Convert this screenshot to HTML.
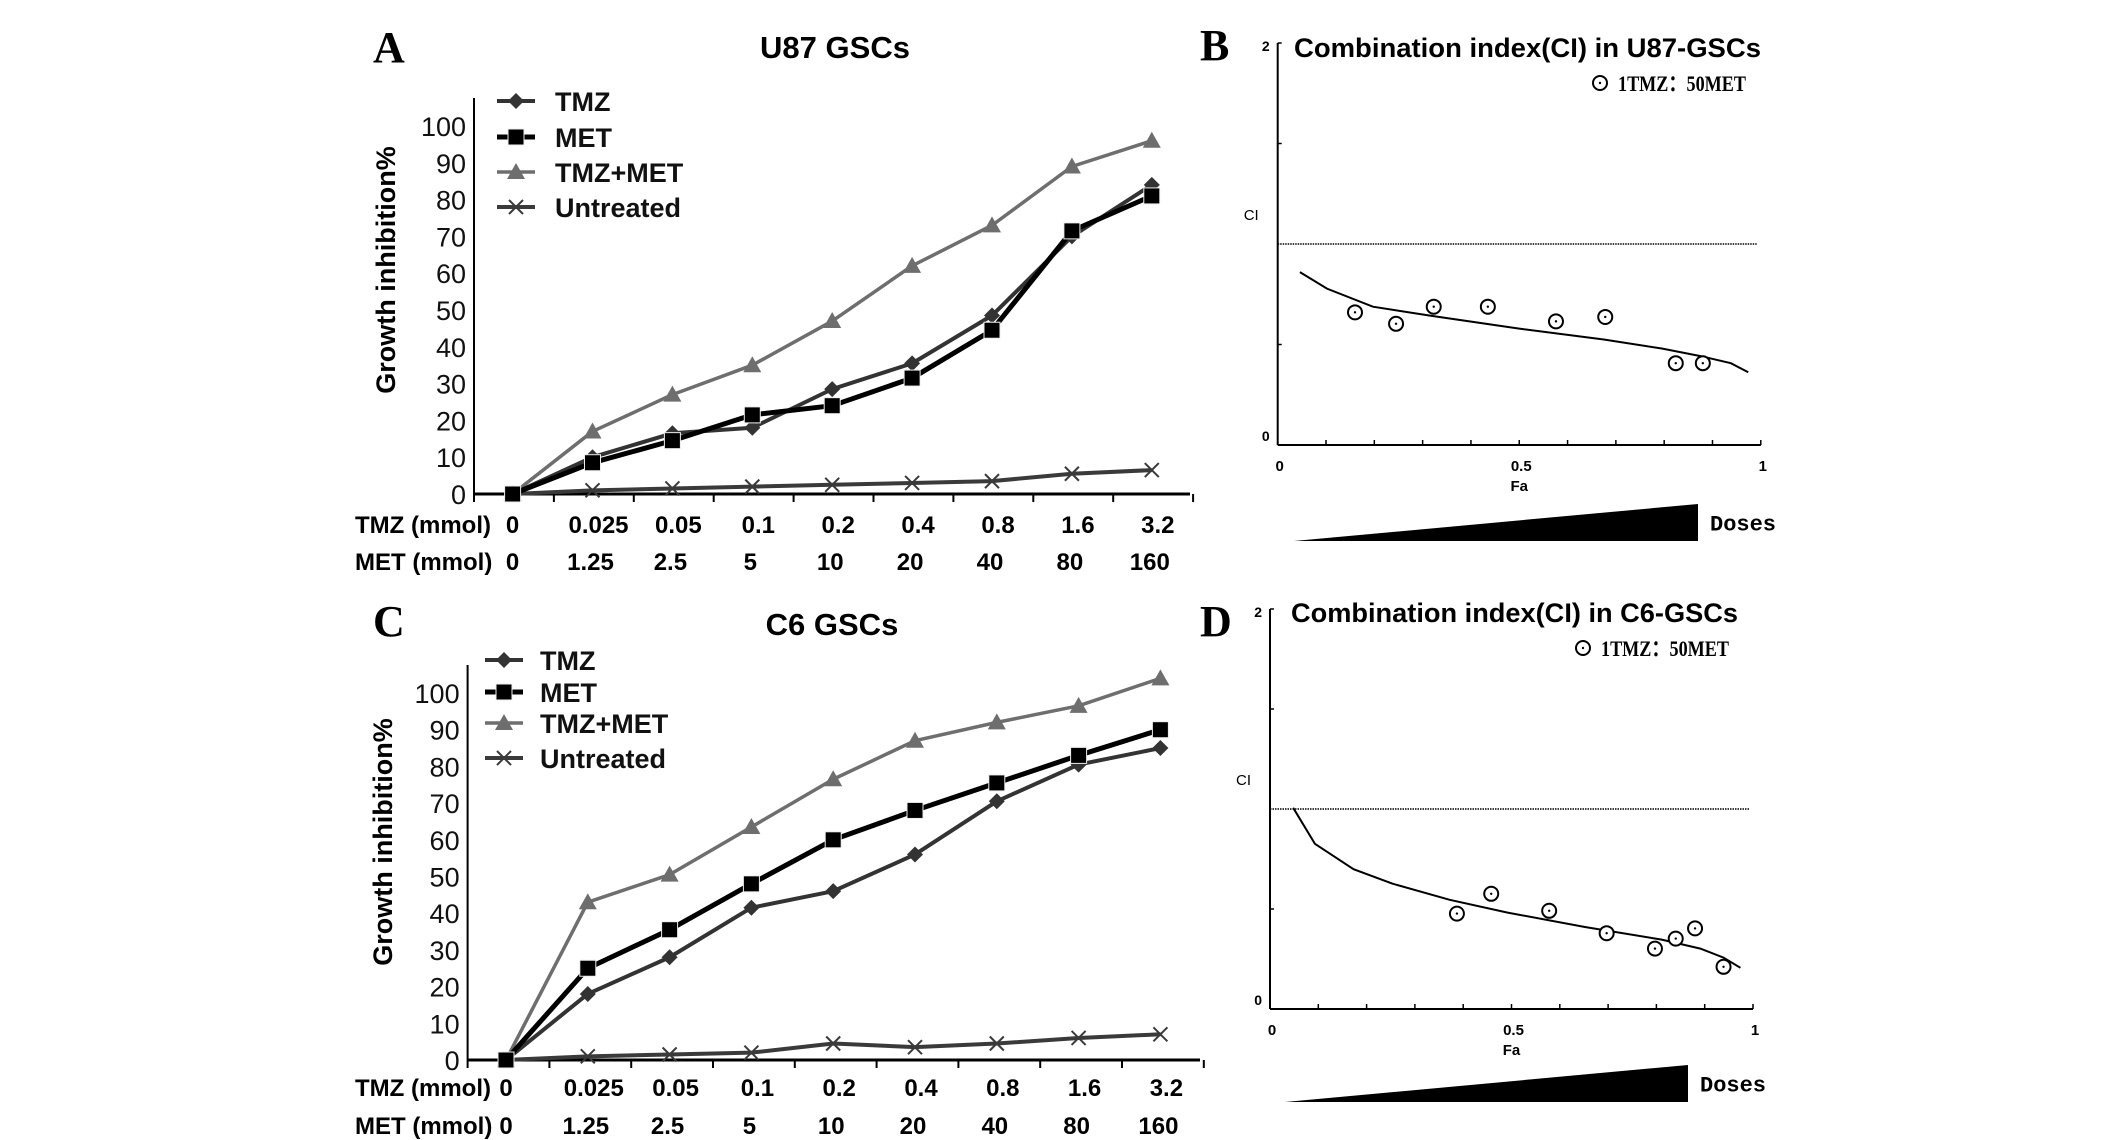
<!DOCTYPE html>
<html><head><meta charset="utf-8"><style>
html,body{margin:0;padding:0;background:#fff;}
svg{display:block;}
</style></head><body>
<svg id="fig" width="2126" height="1140" viewBox="0 0 2126 1140" xmlns="http://www.w3.org/2000/svg" font-family="Liberation Sans, sans-serif"></svg>
<script>
// ---- Data: growth inhibition panels ----
const tmzDoses = ["0","0.025","0.05","0.1","0.2","0.4","0.8","1.6","3.2"];
const metDoses = ["0","1.25","2.5","5","10","20","40","80","160"];
const yTicks = [0,10,20,30,40,50,60,70,80,90,100];
const seriesNames = ["TMZ","MET","TMZ+MET","Untreated"];
const u87Tmz = [0,10,16.5,18,28.5,35.5,48.5,70,84];
const u87Met = [0,8.5,14.5,21.5,24,31.5,44.5,71.5,81];
const u87Combo = [0,17,27,35,47,62,73,89,96];
const u87Untreated = [0,1,1.5,2,2.5,3,3.5,5.5,6.5];
const c6Tmz = [0,18,28,41.5,46,56,70.5,80.5,85];
const c6Met = [0,25,35.5,48,60,68,75.5,83,90];
const c6Combo = [0,43,50.5,63.5,76.5,87,92,96.5,104];
const c6Untreated = [0,1,1.5,2,4.5,3.5,4.5,6,7];
// ---- Data: CI panels ----
const u87Fa = [0.16,0.245,0.323,0.435,0.576,0.678,0.824,0.88];
const u87CI = [0.66,0.603,0.688,0.688,0.615,0.637,0.407,0.407];
const u87CurveFa = [0.046,0.102,0.197,0.317,0.5,0.675,0.795,0.874,0.938,0.974];
const u87CurveCI = [0.86,0.778,0.688,0.643,0.579,0.525,0.48,0.443,0.407,0.362];
const c6Fa = [0.387,0.458,0.578,0.697,0.797,0.84,0.88,0.939];
const c6CI = [0.477,0.576,0.491,0.379,0.302,0.352,0.403,0.211];
const c6CurveFa = [0.048,0.093,0.173,0.253,0.372,0.492,0.652,0.811,0.891,0.939,0.974];
const c6CurveCI = [1.006,0.826,0.699,0.627,0.546,0.482,0.41,0.347,0.302,0.257,0.206];

const NS="http://www.w3.org/2000/svg";
const svg=document.getElementById('fig');
function el(tag,attrs,parent,text){const e=document.createElementNS(NS,tag);for(const k in attrs)e.setAttribute(k,attrs[k]);if(text!==undefined)e.textContent=text;(parent||svg).appendChild(e);return e;}

function marker(g,type,x,y,color){
  let m;
  if(type==="diamond"){m=el('polygon',{points:`${x},${y-8} ${x+8},${y} ${x},${y+8} ${x-8},${y}`,fill:color},g);}
  else if(type==="square"){m=el('rect',{x:x-8,y:y-8,width:16,height:16,fill:color,stroke:'#eee','stroke-width':1},g);}
  else if(type==="triangle"){m=el('polygon',{points:`${x},${y-9} ${x+9},${y+7} ${x-9},${y+7}`,fill:color},g);}
  else {m=el('path',{d:`M${x-7},${y-7}L${x+7},${y+7}M${x-7},${y+7}L${x+7},${y-7}`,stroke:color,'stroke-width':2,fill:'none'},g);}
  return m;
}

function growthPanel(o){
  const g=el('g',{});
  
  
  const t=el('text',{x:o.letterX,y:o.letterY,'font-family':'Liberation Serif, serif','font-weight':'bold','font-size':44},g,o.letter);
  
  const tt=el('text',{x:o.titleX,y:o.titleY,'font-weight':'bold','font-size':31,'text-anchor':'middle'},g,o.title);
  
  const yv=v=>o.y0-(v/100)*(o.y0-o.y100);
  const xv=i=>o.x0+i*o.dx;
  const ya=el('line',{x1:o.ax,y1:o.top,x2:o.ax,y2:o.y0,stroke:'#000','stroke-width':2},g);
  
  const xa=el('line',{x1:o.ax,y1:o.y0,x2:o.right,y2:o.y0,stroke:'#000','stroke-width':3},g);
  
  for(let i=0;i<=tmzDoses.length;i++){const tx=o.ax+i*o.dx;el('line',{x1:tx,y1:o.y0,x2:tx,y2:o.y0+8,stroke:'#000','stroke-width':2},g);}
  yTicks.forEach(v=>{const l=el('text',{x:o.ax-8,y:yv(v)+10,'font-size':27,'text-anchor':'end',fill:'#111'},g,String(v));
    });
  const yt=el('text',{x:0,y:0,'font-weight':'bold','font-size':27,'text-anchor':'middle',transform:`translate(${o.ytX},${o.ytY}) rotate(-90)`},g,'Growth inhibition%');
  
  const r1=el('text',{x:o.labX,y:o.row1,'font-weight':'bold','font-size':24},g,'TMZ (mmol)');
  
  const r2=el('text',{x:o.labX,y:o.row2,'font-weight':'bold','font-size':24},g,'MET (mmol)');
  
  tmzDoses.forEach((d,i)=>{const a=el('text',{x:xv(i)+(i===0?0:6),y:o.row1,'font-weight':'bold','font-size':24,'text-anchor':'middle'},g,d);
    });
  metDoses.forEach((d,i)=>{const a=el('text',{x:xv(i)-(i===0?0:2),y:o.row2,'font-weight':'bold','font-size':24,'text-anchor':'middle'},g,d);
    });
  const styles=[{c:'#333',m:'diamond',w:4},{c:'#000',m:'square',w:5},{c:'#6e6e6e',m:'triangle',w:3.5},{c:'#3a3a3a',m:'x',w:4}];
  const order=[3,2,0,1];
  order.forEach(si=>{const vals=o.series[si],s=styles[si];
    const sg=el('g',{},g);
    
    
    const pts=vals.map((v,i)=>xv(i)+','+yv(v)).join(' ');
    el('polyline',{points:pts,fill:'none',stroke:s.c,'stroke-width':s.w,'stroke-linejoin':'round'},sg);
    vals.forEach((v,i)=>{const m=marker(sg,s.m,xv(i),yv(v),s.c);
      });
  });
  seriesNames.forEach((n,i)=>{const s=styles[i];const ly=o.legY[i];
    const lg=el('g',{},g);
    
    el('line',{x1:o.legX,y1:ly,x2:o.legX+38,y2:ly,stroke:s.c,'stroke-width':s.w},lg);
    marker(lg,s.m,o.legX+19,ly,s.c);
    el('text',{x:o.legTX,y:ly+10,'font-weight':'bold','font-size':27,fill:'#111'},lg,n);
  });
}

growthPanel({name:'panel-a-u87-growth',letter:'A',letterX:373,letterY:62,title:'U87 GSCs',titleX:835,titleY:58,
  ax:474,top:98,y0:494,y100:126,right:1190,x0:512.6,dx:79.9,ytX:395,ytY:270,labX:355,row1:533,row2:570,
  series:[u87Tmz,u87Met,u87Combo,u87Untreated],legX:497,legY:[101,137,172,207],legTX:555});
growthPanel({name:'panel-c-c6-growth',letter:'C',letterX:373,letterY:636,title:'C6 GSCs',titleX:832,titleY:635,
  ax:467.6,top:665,y0:1060,y100:693,right:1200,x0:506,dx:81.8,ytX:392,ytY:842,labX:355,row1:1096,row2:1134,
  series:[c6Tmz,c6Met,c6Combo,c6Untreated],legX:485,legY:[660,692,723,758],legTX:540});

function ciPanel(o){
  const g=el('g',{});
  
  
  const fx=f=>o.ax+f*(o.right-o.ax);
  const cy=c=>o.y0-c/2*(o.y0-o.top);
  const L=el('text',{x:o.letterX,y:o.letterY,'font-family':'Liberation Serif, serif','font-weight':'bold','font-size':44},g,o.letter);
  
  const T=el('text',{x:o.titleX,y:o.titleY,'font-weight':'bold','font-size':27,textLength:o.titleW,lengthAdjust:'spacingAndGlyphs'},g,o.title);
  
  const ya=el('line',{x1:o.ax,y1:o.top,x2:o.ax,y2:o.y0,stroke:'#000','stroke-width':2},g);
  
  el('line',{x1:o.ax,y1:o.top,x2:o.ax+4,y2:o.top,stroke:'#000','stroke-width':1.5},g);
  [0.5,1.5].forEach(c=>el('line',{x1:o.ax,y1:cy(c),x2:o.ax+4,y2:cy(c),stroke:'#000','stroke-width':1.5},g));
  const xa=el('line',{x1:o.ax,y1:o.y0,x2:o.right,y2:o.y0,stroke:'#000','stroke-width':2},g);
  
  for(let i=1;i<=10;i++)el('line',{x1:fx(i/10),y1:o.y0,x2:fx(i/10),y2:o.y0-5,stroke:'#000','stroke-width':1.5},g);
  [['2',o.top+8],['0',o.y0-4]].forEach(([t,y])=>{const a=el('text',{x:o.ax-8,y:y,'font-size':14,'font-weight':'bold','text-anchor':'end'},g,t);
    });
  [['0',0],['0.5',0.5],['1',1]].forEach(([t,f])=>{const a=el('text',{x:fx(f)+2,y:o.y0+26,'font-size':15,'font-weight':'bold','text-anchor':'middle'},g,t);
    });
  const fa=el('text',{x:fx(0.5),y:o.y0+46,'font-size':15,'font-weight':'bold','text-anchor':'middle'},g,'Fa');
  
  const ci=el('text',{x:o.ax-34,y:cy(1.12),'font-size':15},g,'CI');
  
  const ref=el('line',{x1:o.ax,y1:cy(1),x2:o.right-4,y2:cy(1),stroke:'#000','stroke-width':1.5,'stroke-dasharray':'1.5,1'},g);
  
  const cp=el('polyline',{points:o.cf.map((f,i)=>fx(f)+','+cy(o.cc[i])).join(' '),fill:'none',stroke:'#000','stroke-width':2},g);
  
  o.pf.forEach((f,i)=>{const pg=el('g',{},g);
    
    el('circle',{cx:fx(f),cy:cy(o.pc[i]),r:7,fill:'#fff',stroke:'#000','stroke-width':2},pg);
    el('circle',{cx:fx(f),cy:cy(o.pc[i]),r:1.2,fill:'#000'},pg);});
  const lg=el('g',{},g);
  
  el('circle',{cx:o.legX,cy:o.legY,r:7,fill:'#fff',stroke:'#000','stroke-width':2},lg);
  el('circle',{cx:o.legX,cy:o.legY,r:1.2,fill:'#000'},lg);
  el('text',{x:o.legX+18,y:o.legY+8,'font-family':'Liberation Serif, serif','font-weight':'bold','font-size':22,textLength:128,lengthAdjust:'spacingAndGlyphs'},lg,'1TMZ：50MET');
  const tri=el('polygon',{points:`${o.triL},${o.triB} ${o.triR},${o.triB} ${o.triR},${o.triT}`,fill:'#000'},g);
  
  const d=el('text',{x:o.triR+12,y:(o.triB+o.triT)/2+8,'font-family':'Liberation Mono, monospace','font-weight':'bold','font-size':22},g,'Doses');
  
}
ciPanel({name:'panel-b-u87-ci',letter:'B',letterX:1200,letterY:60,title:'Combination index(CI) in U87-GSCs',titleX:1294,titleY:57,titleW:467,
  ax:1277.7,top:43,y0:445,right:1760.8,cf:u87CurveFa,cc:u87CurveCI,pf:u87Fa,pc:u87CI,legX:1600,legY:83,triL:1294,triR:1698,triB:541,triT:504});
ciPanel({name:'panel-d-c6-ci',letter:'D',letterX:1200,letterY:636,title:'Combination index(CI) in C6-GSCs',titleX:1291,titleY:622,titleW:447,
  ax:1270,top:609,y0:1009,right:1753,cf:c6CurveFa,cc:c6CurveCI,pf:c6Fa,pc:c6CI,legX:1583,legY:648,triL:1285,triR:1688,triB:1102,triT:1065});
</script>
</body></html>
